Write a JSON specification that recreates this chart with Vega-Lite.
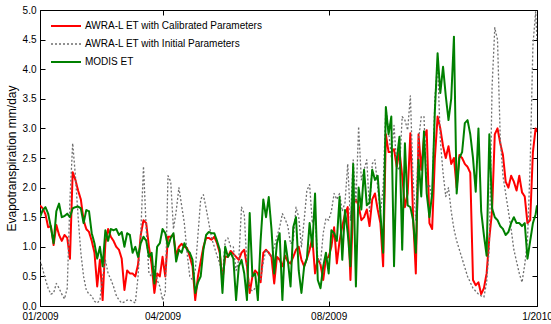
{
"$schema": "https://vega.github.io/schema/vega-lite/v6.json",
"width": 497, "height": 296,
"autosize": "none",
"padding": {"left": 40, "top": 10, "right": 14, "bottom": 18},
"background": "white",
"config": {"view": {"stroke": "black", "strokeWidth": 1}, "font": "Liberation Sans, Arial, sans-serif"},
"data": {"values": [
{"d":"2009-01-01","a":1.7,"b":0.78,"c":1.5},
{"d":"2009-01-03","a":1.65,"b":0.62,"c":1.62},
{"d":"2009-01-05","a":1.55,"b":0.45,"c":1.67},
{"d":"2009-01-07","a":1.33,"b":0.3,"c":1.56},
{"d":"2009-01-09","a":1.35,"b":0.2,"c":1.33},
{"d":"2009-01-11","a":1.03,"b":0.22,"c":1.06},
{"d":"2009-01-13","a":1.37,"b":0.38,"c":1.6},
{"d":"2009-01-15","a":1.2,"b":0.3,"c":1.73},
{"d":"2009-01-17","a":1.1,"b":0.2,"c":1.5},
{"d":"2009-01-19","a":1.2,"b":0.12,"c":1.52},
{"d":"2009-01-21","a":1.15,"b":0.3,"c":1.56},
{"d":"2009-01-23","a":0.8,"b":1.8,"c":1.5},
{"d":"2009-01-25","a":2.26,"b":2.75,"c":1.65},
{"d":"2009-01-27","a":2.13,"b":2.2,"c":1.67},
{"d":"2009-01-29","a":1.95,"b":1.5,"c":1.68},
{"d":"2009-01-31","a":1.8,"b":0.9,"c":1.65},
{"d":"2009-02-02","a":1.45,"b":0.5,"c":1.4},
{"d":"2009-02-04","a":1.3,"b":0.27,"c":1.62},
{"d":"2009-02-06","a":1.25,"b":0.2,"c":1.6},
{"d":"2009-02-08","a":1.1,"b":0.17,"c":1.23},
{"d":"2009-02-10","a":0.9,"b":0.08,"c":1.06},
{"d":"2009-02-12","a":0.33,"b":0.05,"c":0.8},
{"d":"2009-02-14","a":0.78,"b":0.1,"c":1.0},
{"d":"2009-02-16","a":0.1,"b":0.5,"c":0.67},
{"d":"2009-02-18","a":1.06,"b":0.78,"c":1.28},
{"d":"2009-02-20","a":1.3,"b":0.55,"c":1.1},
{"d":"2009-02-22","a":1.17,"b":0.45,"c":1.3},
{"d":"2009-02-24","a":1.1,"b":0.33,"c":1.28},
{"d":"2009-02-26","a":1.0,"b":0.18,"c":1.3},
{"d":"2009-02-28","a":0.95,"b":0.1,"c":1.2},
{"d":"2009-03-02","a":0.8,"b":0.05,"c":1.25},
{"d":"2009-03-04","a":0.27,"b":0.07,"c":1.0},
{"d":"2009-03-06","a":0.6,"b":0.1,"c":1.23},
{"d":"2009-03-08","a":0.55,"b":0.1,"c":1.2},
{"d":"2009-03-10","a":0.55,"b":0.08,"c":0.9},
{"d":"2009-03-12","a":0.5,"b":0.05,"c":1.0},
{"d":"2009-03-14","a":0.7,"b":0.5,"c":0.83},
{"d":"2009-03-16","a":1.2,"b":1.23,"c":1.06},
{"d":"2009-03-18","a":1.45,"b":2.36,"c":1.17},
{"d":"2009-03-20","a":1.4,"b":1.3,"c":1.1},
{"d":"2009-03-22","a":1.0,"b":0.55,"c":0.83},
{"d":"2009-03-24","a":0.7,"b":0.5,"c":0.9},
{"d":"2009-03-26","a":0.22,"b":0.67,"c":0.38},
{"d":"2009-03-28","a":0.55,"b":0.44,"c":1.0},
{"d":"2009-03-30","a":0.5,"b":0.33,"c":1.06},
{"d":"2009-04-01","a":0.83,"b":0.1,"c":1.3},
{"d":"2009-04-03","a":0.5,"b":0.22,"c":1.23},
{"d":"2009-04-05","a":1.17,"b":2.2,"c":1.0},
{"d":"2009-04-07","a":1.17,"b":2.1,"c":1.15},
{"d":"2009-04-09","a":1.2,"b":1.3,"c":1.23},
{"d":"2009-04-11","a":0.85,"b":1.6,"c":0.75},
{"d":"2009-04-13","a":1.0,"b":2.0,"c":0.95},
{"d":"2009-04-15","a":1.05,"b":1.7,"c":0.9},
{"d":"2009-04-17","a":1.0,"b":1.4,"c":1.06},
{"d":"2009-04-19","a":0.98,"b":0.9,"c":0.95},
{"d":"2009-04-21","a":0.83,"b":0.5,"c":0.9},
{"d":"2009-04-23","a":0.67,"b":0.44,"c":0.78},
{"d":"2009-04-25","a":0.1,"b":0.6,"c":0.22},
{"d":"2009-04-27","a":0.5,"b":1.2,"c":0.4},
{"d":"2009-04-29","a":0.75,"b":1.8,"c":0.5},
{"d":"2009-05-01","a":1.0,"b":1.88,"c":0.95},
{"d":"2009-05-03","a":1.15,"b":1.65,"c":1.2},
{"d":"2009-05-05","a":1.15,"b":1.4,"c":1.25},
{"d":"2009-05-07","a":1.12,"b":1.15,"c":1.23},
{"d":"2009-05-09","a":1.17,"b":1.0,"c":1.23},
{"d":"2009-05-11","a":1.06,"b":0.85,"c":1.1},
{"d":"2009-05-13","a":0.9,"b":0.72,"c":0.95},
{"d":"2009-05-15","a":0.44,"b":0.5,"c":0.22},
{"d":"2009-05-17","a":0.83,"b":1.1,"c":1.0},
{"d":"2009-05-19","a":0.83,"b":1.15,"c":0.83},
{"d":"2009-05-21","a":0.93,"b":1.0,"c":0.9},
{"d":"2009-05-23","a":0.88,"b":1.0,"c":0.8},
{"d":"2009-05-25","a":0.83,"b":0.6,"c":0.1},
{"d":"2009-05-27","a":0.78,"b":0.78,"c":0.67},
{"d":"2009-05-29","a":0.9,"b":1.67,"c":0.78},
{"d":"2009-05-31","a":0.95,"b":1.56,"c":0.55},
{"d":"2009-06-02","a":0.67,"b":0.67,"c":0.1},
{"d":"2009-06-04","a":0.22,"b":0.3,"c":1.57},
{"d":"2009-06-06","a":0.5,"b":0.25,"c":0.5},
{"d":"2009-06-08","a":0.6,"b":0.3,"c":0.55},
{"d":"2009-06-10","a":0.55,"b":0.38,"c":0.1},
{"d":"2009-06-12","a":0.4,"b":0.44,"c":1.1},
{"d":"2009-06-14","a":0.9,"b":0.75,"c":1.8},
{"d":"2009-06-16","a":0.95,"b":0.95,"c":1.5},
{"d":"2009-06-18","a":0.9,"b":0.88,"c":1.84},
{"d":"2009-06-20","a":0.83,"b":0.83,"c":1.3},
{"d":"2009-06-22","a":0.38,"b":1.0,"c":0.55},
{"d":"2009-06-24","a":0.83,"b":1.17,"c":1.06},
{"d":"2009-06-26","a":0.78,"b":1.33,"c":1.23},
{"d":"2009-06-28","a":0.67,"b":1.56,"c":0.1},
{"d":"2009-06-30","a":0.85,"b":1.47,"c":1.1},
{"d":"2009-07-02","a":0.75,"b":1.35,"c":0.78},
{"d":"2009-07-04","a":0.72,"b":1.05,"c":0.33},
{"d":"2009-07-06","a":0.83,"b":1.1,"c":1.33},
{"d":"2009-07-08","a":0.95,"b":1.67,"c":1.5},
{"d":"2009-07-10","a":1.0,"b":1.5,"c":0.6},
{"d":"2009-07-12","a":0.78,"b":1.0,"c":0.22},
{"d":"2009-07-14","a":0.67,"b":1.45,"c":0.67},
{"d":"2009-07-16","a":0.8,"b":1.95,"c":0.8},
{"d":"2009-07-18","a":0.95,"b":2.05,"c":1.4},
{"d":"2009-07-20","a":1.15,"b":1.4,"c":1.0},
{"d":"2009-07-22","a":0.55,"b":1.5,"c":1.9},
{"d":"2009-07-24","a":0.8,"b":0.8,"c":0.44},
{"d":"2009-07-26","a":0.7,"b":0.72,"c":0.3},
{"d":"2009-07-28","a":0.44,"b":1.23,"c":0.67},
{"d":"2009-07-30","a":0.8,"b":1.48,"c":0.9},
{"d":"2009-08-01","a":0.83,"b":1.45,"c":0.55},
{"d":"2009-08-03","a":1.0,"b":1.6,"c":1.28},
{"d":"2009-08-05","a":1.33,"b":1.9,"c":1.23},
{"d":"2009-08-07","a":0.72,"b":1.8,"c":1.1},
{"d":"2009-08-09","a":1.1,"b":1.9,"c":1.84},
{"d":"2009-08-11","a":1.35,"b":1.6,"c":0.78},
{"d":"2009-08-13","a":1.55,"b":1.75,"c":1.62},
{"d":"2009-08-15","a":1.67,"b":2.4,"c":1.23},
{"d":"2009-08-17","a":0.44,"b":1.45,"c":0.67},
{"d":"2009-08-19","a":1.7,"b":2.47,"c":2.4},
{"d":"2009-08-21","a":1.8,"b":1.75,"c":0.33},
{"d":"2009-08-23","a":1.7,"b":3.03,"c":2.0},
{"d":"2009-08-25","a":1.45,"b":2.13,"c":1.63},
{"d":"2009-08-27","a":1.5,"b":2.3,"c":2.3},
{"d":"2009-08-29","a":1.63,"b":2.47,"c":1.7},
{"d":"2009-08-31","a":1.35,"b":1.6,"c":1.75},
{"d":"2009-09-02","a":1.8,"b":2.4,"c":2.3},
{"d":"2009-09-04","a":1.9,"b":2.47,"c":2.13},
{"d":"2009-09-06","a":1.63,"b":2.0,"c":2.2},
{"d":"2009-09-08","a":1.4,"b":1.57,"c":1.57},
{"d":"2009-09-10","a":0.67,"b":2.0,"c":0.9},
{"d":"2009-09-12","a":2.9,"b":3.35,"c":3.36},
{"d":"2009-09-14","a":2.6,"b":2.95,"c":2.9},
{"d":"2009-09-16","a":2.6,"b":2.52,"c":3.2},
{"d":"2009-09-18","a":2.65,"b":3.05,"c":0.67},
{"d":"2009-09-20","a":2.35,"b":2.35,"c":2.47},
{"d":"2009-09-22","a":2.62,"b":2.3,"c":2.86},
{"d":"2009-09-24","a":2.2,"b":3.2,"c":0.95},
{"d":"2009-09-26","a":1.67,"b":3.14,"c":2.75},
{"d":"2009-09-28","a":1.9,"b":2.97,"c":1.7},
{"d":"2009-09-30","a":2.92,"b":3.55,"c":1.67},
{"d":"2009-10-02","a":1.5,"b":2.13,"c":1.45},
{"d":"2009-10-04","a":0.55,"b":1.45,"c":0.9},
{"d":"2009-10-06","a":2.9,"b":2.8,"c":2.47},
{"d":"2009-10-08","a":2.3,"b":3.2,"c":1.85},
{"d":"2009-10-10","a":2.85,"b":3.2,"c":2.95},
{"d":"2009-10-12","a":2.97,"b":2.0,"c":1.9},
{"d":"2009-10-14","a":1.4,"b":2.05,"c":1.5},
{"d":"2009-10-16","a":1.3,"b":1.8,"c":1.9},
{"d":"2009-10-18","a":2.5,"b":3.5,"c":3.3},
{"d":"2009-10-20","a":3.2,"b":4.1,"c":4.27},
{"d":"2009-10-22","a":3.0,"b":2.8,"c":3.6},
{"d":"2009-10-24","a":2.7,"b":2.25,"c":4.04},
{"d":"2009-10-26","a":2.5,"b":1.85,"c":3.55},
{"d":"2009-10-28","a":2.7,"b":2.0,"c":3.14},
{"d":"2009-10-30","a":2.4,"b":1.6,"c":3.5},
{"d":"2009-11-01","a":2.5,"b":1.3,"c":4.55},
{"d":"2009-11-03","a":2.0,"b":1.1,"c":1.9},
{"d":"2009-11-05","a":2.55,"b":0.95,"c":2.5},
{"d":"2009-11-07","a":2.5,"b":0.8,"c":2.6},
{"d":"2009-11-09","a":2.4,"b":0.65,"c":3.09},
{"d":"2009-11-11","a":2.35,"b":0.5,"c":3.14},
{"d":"2009-11-13","a":2.25,"b":0.4,"c":2.9},
{"d":"2009-11-15","a":0.44,"b":0.3,"c":2.5},
{"d":"2009-11-17","a":0.35,"b":0.25,"c":1.93},
{"d":"2009-11-19","a":0.4,"b":0.2,"c":3.0},
{"d":"2009-11-21","a":0.2,"b":0.17,"c":1.6},
{"d":"2009-11-23","a":0.3,"b":0.15,"c":1.2},
{"d":"2009-11-25","a":0.55,"b":0.4,"c":0.85},
{"d":"2009-11-27","a":1.15,"b":1.0,"c":2.9},
{"d":"2009-11-29","a":1.6,"b":3.7,"c":1.65},
{"d":"2009-12-01","a":2.9,"b":4.7,"c":1.5},
{"d":"2009-12-03","a":3.0,"b":4.5,"c":1.45},
{"d":"2009-12-05","a":2.75,"b":2.84,"c":1.35},
{"d":"2009-12-07","a":2.55,"b":2.2,"c":1.3},
{"d":"2009-12-09","a":2.1,"b":1.9,"c":1.2},
{"d":"2009-12-11","a":2.0,"b":1.6,"c":1.25},
{"d":"2009-12-13","a":2.2,"b":1.3,"c":1.4},
{"d":"2009-12-15","a":2.1,"b":0.95,"c":1.5},
{"d":"2009-12-17","a":1.95,"b":0.75,"c":1.4},
{"d":"2009-12-19","a":2.2,"b":0.55,"c":1.4},
{"d":"2009-12-21","a":1.92,"b":0.4,"c":1.35},
{"d":"2009-12-23","a":1.85,"b":0.7,"c":1.4},
{"d":"2009-12-25","a":1.4,"b":1.1,"c":0.8},
{"d":"2009-12-27","a":1.45,"b":2.4,"c":1.1},
{"d":"2009-12-29","a":2.6,"b":4.4,"c":1.4},
{"d":"2009-12-31","a":3.0,"b":4.97,"c":1.55},
{"d":"2010-01-01","a":2.94,"b":4.5,"c":1.7}
]},
"transform": [{"fold": ["a", "b", "c"], "as": ["s", "v"]}],
"layer": [
{
"mark": {"type": "line", "strokeJoin": "round", "clip": true},
"encoding": {
"x": {"field": "d", "type": "temporal",
 "scale": {"type": "utc", "domain": [{"year": 2009, "month": 1, "date": 1, "utc": true}, {"year": 2010, "month": 1, "date": 1, "utc": true}]},
 "axis": {"orient": "bottom", "title": null, "grid": false,
  "values": [{"year": 2009, "month": 1, "date": 1, "utc": true}, {"year": 2009, "month": 4, "date": 1, "utc": true}, {"year": 2009, "month": 8, "date": 1, "utc": true}, {"year": 2010, "month": 1, "date": 1, "utc": true}],
  "labelExpr": "utcFormat(datum.value, '%Y') == '2010' ? '1/2010' : utcFormat(datum.value, '%m/%Y')",
  "labelFont": "Liberation Sans", "labelFontSize": 10, "labelColor": "black",
  "labelPadding": 10, "labelFlush": false, "labelOverlap": false,
  "tickSize": -5, "tickColor": "black", "domainColor": "black"}},
"y": {"field": "v", "type": "quantitative",
 "scale": {"domain": [0, 5], "nice": false},
 "axis": {"orient": "left", "title": "Evapotranspiration mm/day", "grid": false,
  "values": [0, 0.5, 1, 1.5, 2, 2.5, 3, 3.5, 4, 4.5, 5],
  "labelFont": "Liberation Sans", "labelFontSize": 10, "labelColor": "black", "labelPadding": 9,
  "titleFont": "Liberation Sans", "titleFontSize": 12, "titleFontWeight": "normal", "titleColor": "black", "titlePadding": 4,
  "tickSize": -5, "tickColor": "black", "domainColor": "black"}},
"color": {"field": "s", "type": "nominal",
 "scale": {"domain": ["a", "b", "c"], "range": ["#ff0000", "#6e6e6e", "#008000"]},
 "legend": {"orient": "none", "legendX": 10, "legendY": 8, "title": null, "symbolType": "stroke", "symbolSize": 900, "symbolStrokeWidth": 2,
  "labelFont": "Liberation Sans", "labelFontSize": 10, "labelColor": "black", "rowPadding": 2, "clipHeight": 16, "labelOffset": 3, "labelLimit": 300,
  "labelExpr": "datum.label == 'a' ? 'AWRA-L ET with Calibrated Parameters' : datum.label == 'b' ? 'AWRA-L ET with Initial Parameters' : 'MODIS ET'"}},
"strokeDash": {"field": "s", "type": "nominal",
 "scale": {"domain": ["a", "b", "c"], "range": [[1, 0], [2, 2], [1, 0]]},
 "legend": {"orient": "none", "legendX": 10, "legendY": 8, "title": null, "symbolType": "stroke", "symbolSize": 900, "symbolStrokeWidth": 2,
  "labelFont": "Liberation Sans", "labelFontSize": 10, "labelColor": "black", "rowPadding": 2, "clipHeight": 16, "labelOffset": 3, "labelLimit": 300,
  "labelExpr": "datum.label == 'a' ? 'AWRA-L ET with Calibrated Parameters' : datum.label == 'b' ? 'AWRA-L ET with Initial Parameters' : 'MODIS ET'"}},
"strokeWidth": {"field": "s", "type": "ordinal", "scale": {"type": "ordinal", "domain": ["a", "b", "c"], "range": [2, 1.3, 2]}, "legend": null}
}
},
{
"mark": {"type": "line", "opacity": 0},
"encoding": {
"x": {"field": "d", "type": "temporal",
 "scale": {"type": "utc"},
 "axis": {"orient": "top", "title": null, "grid": false, "labels": false, "domain": false,
  "values": [{"year": 2009, "month": 1, "date": 1, "utc": true}, {"year": 2009, "month": 4, "date": 1, "utc": true}, {"year": 2009, "month": 8, "date": 1, "utc": true}, {"year": 2010, "month": 1, "date": 1, "utc": true}],
  "tickSize": -5, "tickColor": "black"}},
"y": {"field": "v", "type": "quantitative",
 "axis": {"orient": "right", "title": null, "grid": false, "labels": false, "domain": false,
  "values": [0, 0.5, 1, 1.5, 2, 2.5, 3, 3.5, 4, 4.5, 5],
  "tickSize": -5, "tickColor": "black"}}
}
}
],
"resolve": {"axis": {"x": "independent", "y": "independent"}}
}
